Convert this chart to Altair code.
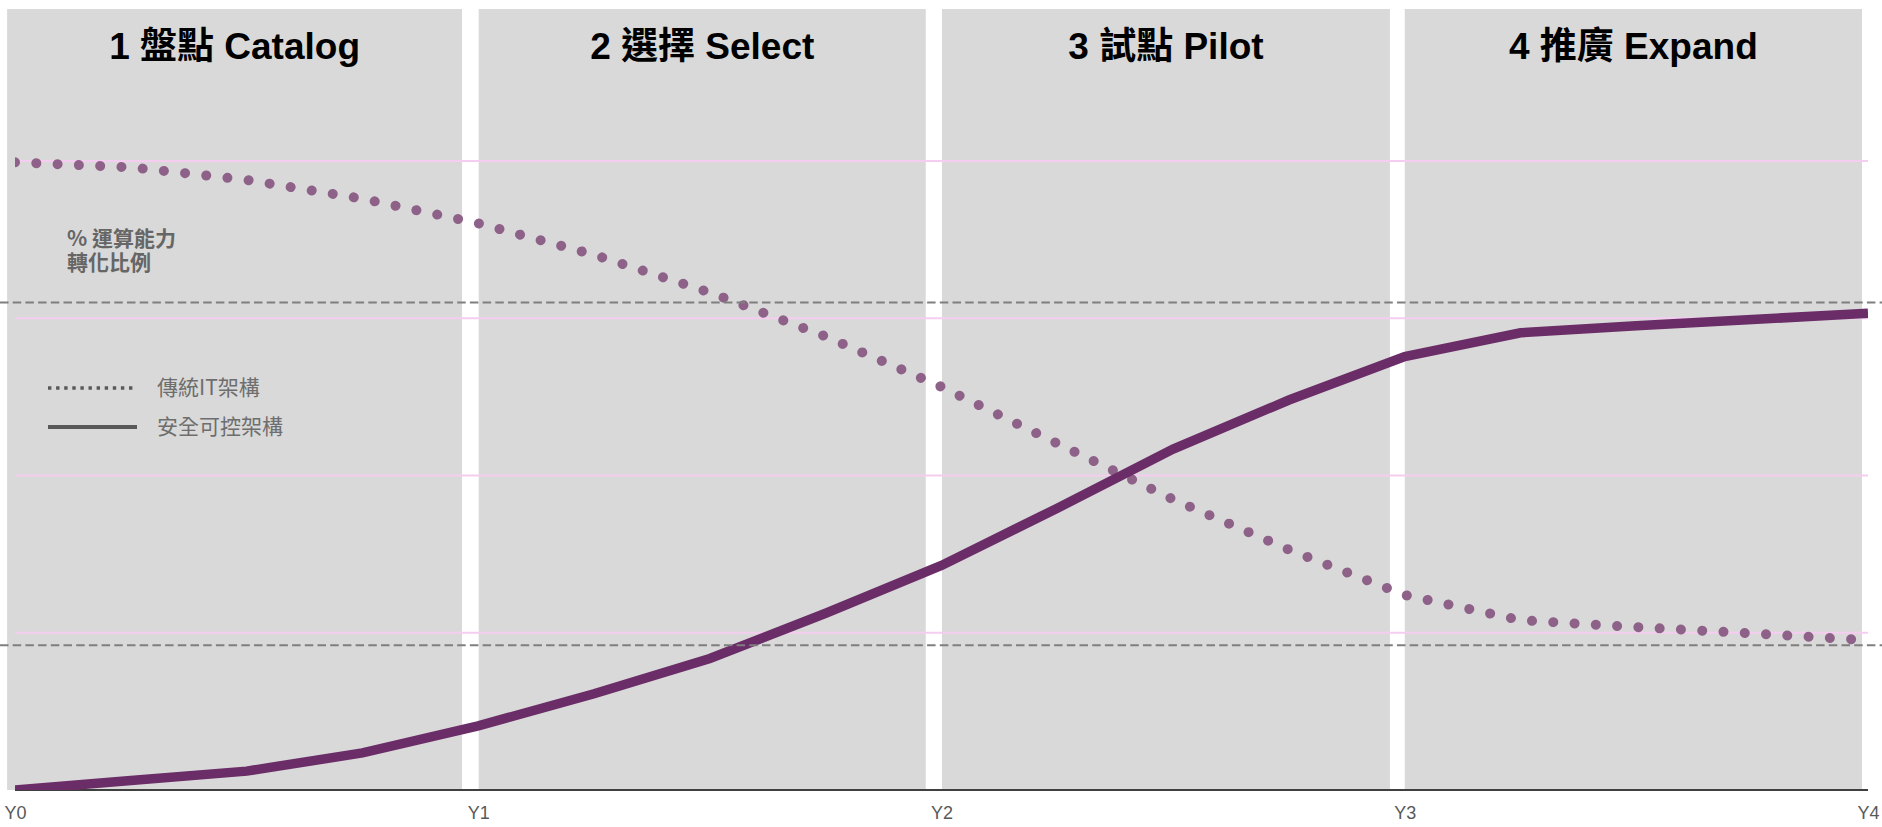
import altair as alt
import pandas as pd

# ---------------- data ----------------
phases = ["1 盤點 Catalog", "2 選擇 Select", "3 試點 Pilot", "4 推廣 Expand"]
band_start = [-0.017, 1.001, 2.001, 3.0]
band_end = [0.965, 1.966, 2.968, 3.987]

x_pos = [0, 0.25, 0.5, 0.75, 1.0, 1.25, 1.5, 1.75, 2.0,
         2.25, 2.5, 2.75, 3.0, 3.25, 3.5, 3.75, 4.0]
legacy = [0.998, 0.990, 0.970, 0.940, 0.901, 0.851, 0.791, 0.721, 0.641,
          0.551, 0.462, 0.382, 0.310, 0.270, 0.259, 0.249, 0.238]
secure = [0.0, 0.015, 0.030, 0.059, 0.102, 0.153, 0.209, 0.281, 0.357,
          0.448, 0.542, 0.620, 0.689, 0.727, 0.738, 0.748, 0.758]

series_names = ["傳統IT架構", "安全可控架構"]
x_labels = ["Y0", "Y1", "Y2", "Y3", "Y4"]
x_ticks = [0, 1, 2, 3, 4]
grid_values = [0.25, 0.5, 0.75, 1.0]
ref_values = [0.775, 0.230]
y_label = "% 運算能力\n轉化比例"

# ---------------- layout ----------------
W, H = 1853, 781
YMAX = 1.2417

xs = alt.Scale(domain=[0, 4], nice=False, zero=False)
ys = alt.Scale(domain=[0, YMAX], nice=False, zero=False)

label_expr = "[" + ",".join(f"'{l}'" for l in x_labels) + "][datum.value]"
x_axis = alt.Axis(
    values=x_ticks, labelExpr=label_expr, title=None, grid=False,
    domain=False, ticks=False, labelPadding=14,
    labelFont="Liberation Sans", labelFontSize=18, labelColor="#595959",
    labelFlush=False, labelAngle=0)


def X(field):
    return alt.X(field, scale=xs, axis=x_axis, title=None)


bands_df = pd.DataFrame({"phase": phases, "start": band_start, "end": band_end})
lines_df = pd.DataFrame({
    "x": x_pos + x_pos,
    "y": legacy + secure,
    "series": [series_names[0]] * len(x_pos) + [series_names[1]] * len(x_pos),
})
one = pd.DataFrame({"k": [0]})

bands = alt.Chart(bands_df).mark_rect(color="#D9D9D9").encode(
    x=X("start:Q"),
    x2="end:Q",
    y=alt.value(0),
    y2=alt.value(H),
)

grid = alt.Chart(pd.DataFrame({"v": grid_values})).transform_calculate(
    a="0", b="4"
).mark_rule(color="#F5CDF0", strokeWidth=2).encode(
    x=X("a:Q"), x2="b:Q",
    y=alt.Y("v:Q", scale=ys, axis=None),
)

axis_line = alt.Chart(one).transform_calculate(
    a="0", b="4", v="0"
).mark_rule(color="#404040", strokeWidth=2).encode(
    x=X("a:Q"), x2="b:Q",
    y=alt.Y("v:Q", scale=ys, axis=None),
)

dotted = alt.Chart(lines_df).transform_filter(
    alt.datum.series == series_names[0]
).mark_line(
    color="#8E6189", strokeWidth=10, strokeDash=[0.01, 21.3],
    strokeCap="round", clip=True
).encode(
    x=X("x:Q"),
    y=alt.Y("y:Q", scale=ys, axis=None),
)

solid = alt.Chart(lines_df).transform_filter(
    alt.datum.series == series_names[1]
).mark_line(color="#6B2D67", strokeWidth=9.5, clip=True).encode(
    x=X("x:Q"),
    y=alt.Y("y:Q", scale=ys, axis=None),
)

refs = alt.Chart(pd.DataFrame({"v": ref_values})).mark_rule(
    color="#7F7F7F", strokeWidth=2, strokeDash=[8.5, 4.2]
).encode(
    x=alt.value(-15), x2=alt.value(W + 14),
    y=alt.Y("v:Q", scale=ys, axis=None),
)

titles = alt.Chart(bands_df).transform_calculate(
    cx="(datum.start + datum.end) / 2"
).mark_text(
    font="Liberation Sans, Noto Sans CJK TC", fontSize=37, fontWeight="bold",
    color="#000000", align="center", baseline="alphabetic"
).encode(
    x=X("cx:Q"),
    y=alt.value(50),
    text="phase:N",
)

ylab = alt.Chart(one).mark_text(
    font="Noto Sans CJK TC", fontSize=21, fontWeight="bold", color="#666666",
    align="left", baseline="middle", lineBreak="\n", lineHeight=24.5
).encode(x=alt.value(52), y=alt.value(230.5), text=alt.value(y_label))

leg_dot = alt.Chart(one).mark_rule(
    color="#595959", strokeWidth=3.5, strokeDash=[3.4, 4.7]
).encode(x=alt.value(33), x2=alt.value(122), y=alt.value(379))
leg_solid = alt.Chart(one).mark_rule(color="#595959", strokeWidth=4).encode(
    x=alt.value(33), x2=alt.value(122), y=alt.value(418)
)
leg_t1 = alt.Chart(one).mark_text(
    font="Noto Sans CJK TC", fontSize=21, color="#6E6E6E",
    align="left", baseline="middle"
).encode(x=alt.value(142), y=alt.value(380), text=alt.value(series_names[0]))
leg_t2 = alt.Chart(one).mark_text(
    font="Noto Sans CJK TC", fontSize=21, color="#6E6E6E",
    align="left", baseline="middle"
).encode(x=alt.value(142), y=alt.value(419), text=alt.value(series_names[1]))

chart = alt.layer(
    bands, grid, axis_line, dotted, solid, refs, titles, ylab,
    leg_dot, leg_solid, leg_t1, leg_t2
).properties(
    width=W, height=H,
    autosize=alt.AutoSizeParams(type="none"),
    padding={"left": 15, "top": 9, "right": 14, "bottom": 37},
    background="#FFFFFF",
).configure_view(strokeWidth=0)

chart.save("out.html", embed_options={"renderer": "svg", "actions": False})
